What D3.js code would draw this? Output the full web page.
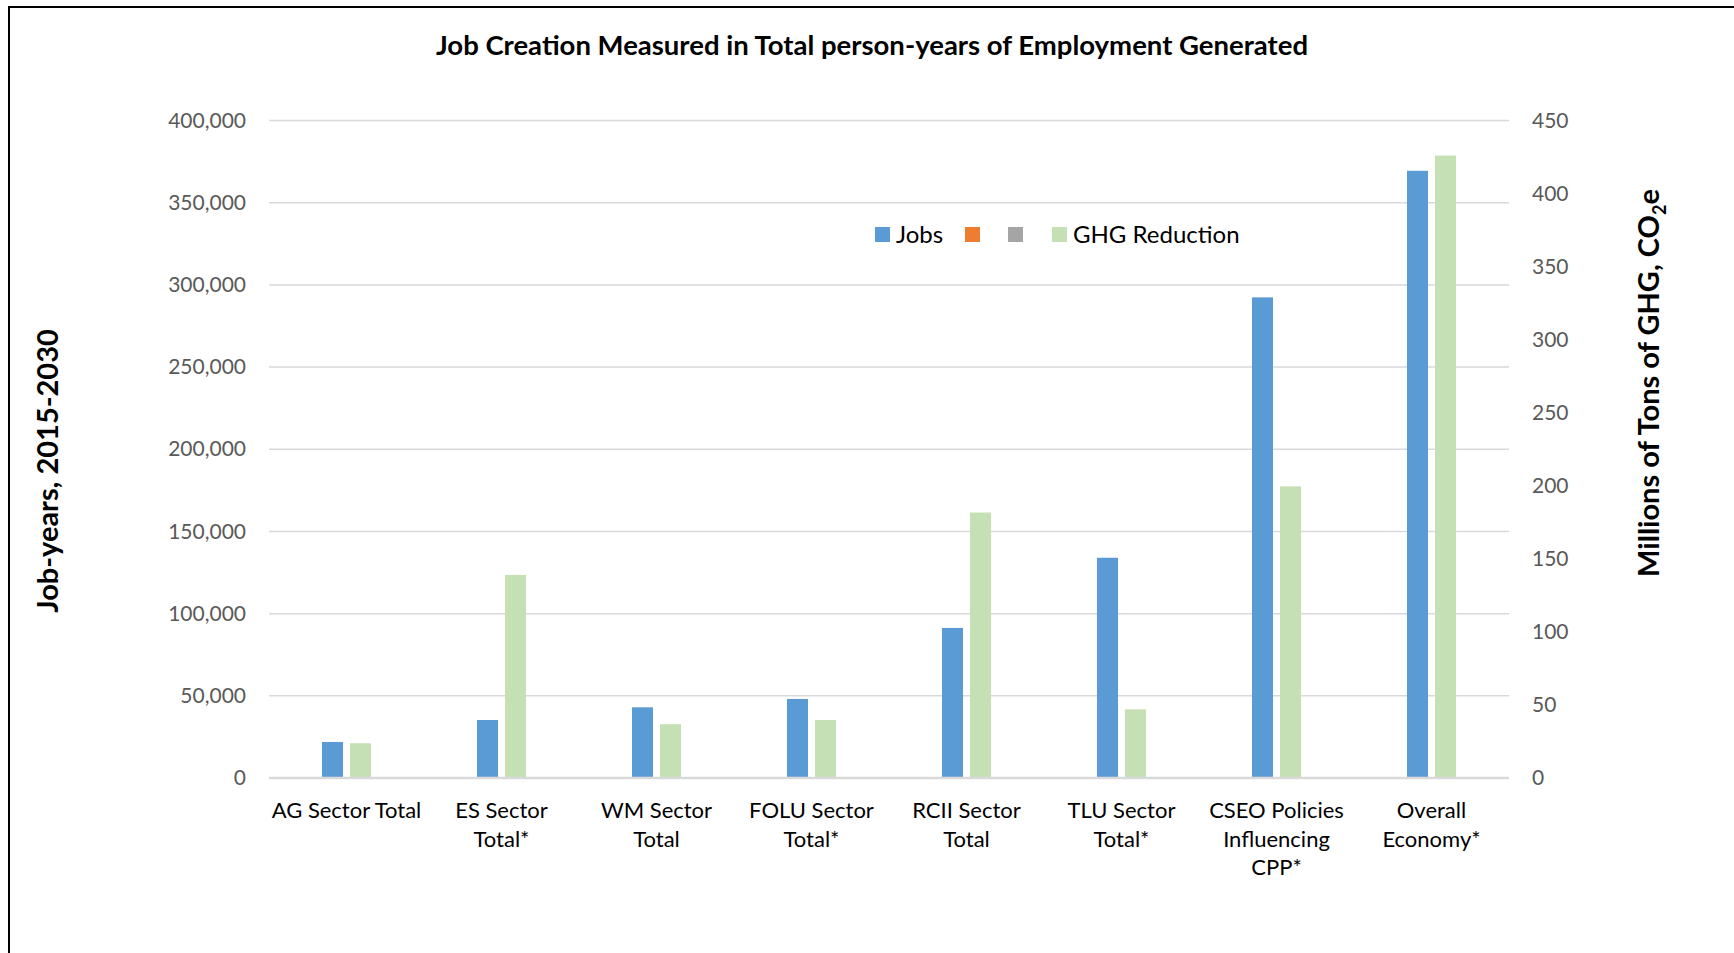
<!DOCTYPE html>
<html>
<head>
<meta charset="utf-8">
<script src="https://cdn.jsdelivr.net/npm/d3@7"></script>
<style>
  html, body { margin: 0; padding: 0; background: #fff; }
  svg { display: block; }
  text { font-family: Lato, "Open Sans", sans-serif; }
</style>
</head>
<body>
<svg id="chart" width="1734" height="953"></svg>
<script>
// ---- data ----
const categories = [
  "AG Sector Total", "ES Sector Total*", "WM Sector Total", "FOLU Sector Total*",
  "RCII Sector Total", "TLU Sector Total*", "CSEO Policies Influencing CPP*", "Overall Economy*"
];
const categoryLines = [
  ["AG Sector Total"], ["ES Sector", "Total*"], ["WM Sector", "Total"], ["FOLU Sector", "Total*"],
  ["RCII Sector", "Total"], ["TLU Sector", "Total*"], ["CSEO Policies", "Influencing", "CPP*"], ["Overall", "Economy*"]
];
const jobs = [21900, 35300, 43000, 48100, 91300, 134000, 292400, 369400];
const ghgReduction = [23.8, 139, 36.8, 39.7, 181.7, 47, 199.6, 426];
const leftTicks = [0, 50000, 100000, 150000, 200000, 250000, 300000, 350000, 400000];
const rightTicks = [0, 50, 100, 150, 200, 250, 300, 350, 400, 450];
const legendItems = [
  { key: "Jobs", label: "Jobs", color: "#5B9BD5" },
  { key: "S2", label: "", color: "#ED7D31" },
  { key: "S3", label: "", color: "#A5A5A5" },
  { key: "GHG", label: "GHG Reduction", color: "#C5E0B4" }
];

const svg = d3.select("#chart");

// frame
svg.append("rect").attr("x", 9).attr("y", 7).attr("width", 1800).attr("height", 1000)
  .attr("fill", "none").attr("stroke", "#000").attr("stroke-width", 2);

const plot = { left: 269, right: 1509, top: 120.5, bottom: 778 };

const x0 = d3.scaleBand().domain(categories).range([plot.left, plot.right]).padding(0);
const x1 = d3.scaleBand().domain(["Jobs", "GHG"]).range([0, x0.bandwidth()])
  .paddingInner(0.25).paddingOuter(1.89);
const yL = d3.scaleLinear().domain([0, 400000]).range([plot.bottom, plot.top]);
const yR = d3.scaleLinear().domain([0, 450]).range([plot.bottom, plot.top]);

// gridlines
svg.append("g").selectAll("line").data(leftTicks.filter(d => d > 0)).join("line")
  .attr("x1", plot.left).attr("x2", plot.right)
  .attr("y1", d => yL(d)).attr("y2", d => yL(d))
  .attr("stroke", "#D9D9D9").attr("stroke-width", 1.5);

// left axis labels
const fmt = d3.format(",");
const leftAxis = d3.axisLeft(yL).tickValues(leftTicks).tickFormat(fmt).tickSize(0).tickPadding(23);
const gL = svg.append("g").attr("transform", `translate(${plot.left},0)`).call(leftAxis);
gL.select(".domain").remove();
gL.selectAll("text").attr("font-family", "Lato").attr("font-size", 21).attr("fill", "#595959");

// right axis labels
const rightAxis = d3.axisRight(yR).tickValues(rightTicks).tickSize(0).tickPadding(23);
const gR = svg.append("g").attr("transform", `translate(${plot.right},0)`).call(rightAxis);
gR.select(".domain").remove();
gR.selectAll("text").attr("font-family", "Lato").attr("font-size", 21).attr("fill", "#595959");

// bars
const gBars = svg.append("g");
gBars.selectAll("rect.jobs").data(categories).join("rect").attr("class", "jobs")
  .attr("x", d => x0(d) + x1("Jobs")).attr("width", x1.bandwidth())
  .attr("y", (d, i) => yL(jobs[i])).attr("height", (d, i) => yL(0) - yL(jobs[i]))
  .attr("fill", "#5B9BD5");
gBars.selectAll("rect.ghg").data(categories).join("rect").attr("class", "ghg")
  .attr("x", d => x0(d) + x1("GHG")).attr("width", x1.bandwidth())
  .attr("y", (d, i) => yR(ghgReduction[i])).attr("height", (d, i) => yR(0) - yR(ghgReduction[i]))
  .attr("fill", "#C5E0B4");

// baseline
svg.append("line").attr("x1", plot.left).attr("x2", plot.right)
  .attr("y1", plot.bottom).attr("y2", plot.bottom)
  .attr("stroke", "#D9D9D9").attr("stroke-width", 2.5);

// category labels
const gCat = svg.append("g");
categories.forEach((c, i) => {
  const t = gCat.append("text").attr("text-anchor", "middle")
    .attr("font-size", 22).attr("fill", "#000");
  categoryLines[i].forEach((ln, j) => {
    t.append("tspan").attr("x", x0(c) + x0.bandwidth() / 2)
      .attr("y", 818 + j * 28.7).text(ln);
  });
});

// title
svg.append("text").attr("x", 872).attr("y", 55).attr("text-anchor", "middle")
  .attr("font-size", 27.5).attr("font-weight", "bold").attr("fill", "#000")
  .text("Job Creation Measured in Total person-years of Employment Generated");

// left axis title
svg.append("text").attr("transform", "translate(58,471) rotate(-90)")
  .attr("text-anchor", "middle").attr("font-size", 29).attr("font-weight", "bold")
  .text("Job-years, 2015-2030");

// right axis title
const rt = svg.append("text").attr("transform", "translate(1659,383) rotate(-90)")
  .attr("text-anchor", "middle").attr("font-size", 29).attr("font-weight", "bold");
rt.append("tspan").text("Millions of Tons of GHG, CO");
rt.append("tspan").attr("font-size", 18).attr("dy", 7).text("2");
rt.append("tspan").attr("dy", -7).text("e");

// legend
const legendX = [875, 965, 1008, 1052];
const gLeg = svg.append("g");
legendItems.forEach((it, i) => {
  gLeg.append("rect").attr("x", legendX[i]).attr("y", 227).attr("width", 15).attr("height", 15)
    .attr("fill", it.color);
  if (it.label) {
    gLeg.append("text").attr("x", legendX[i] + 21).attr("y", 243)
      .attr("font-size", 24).attr("fill", "#000").text(it.label);
  }
});
</script>
</body>
</html>
